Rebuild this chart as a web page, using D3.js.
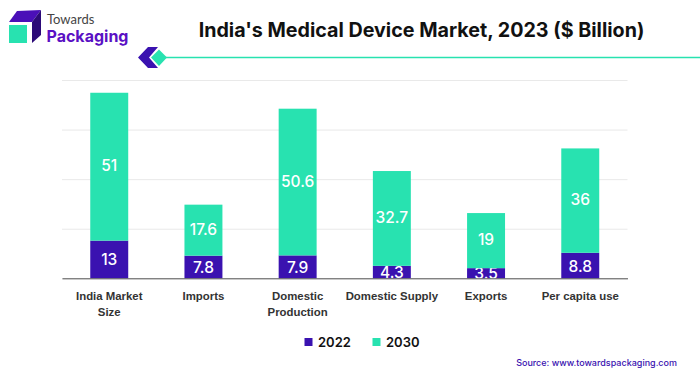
<!DOCTYPE html>
<html>
<head>
<meta charset="utf-8">
<script src="https://cdn.jsdelivr.net/npm/d3@7"></script>
<style>
    html, body { margin: 0; padding: 0; background: #fff; }
    svg { display: block; font-family: Inter, "Noto Sans", sans-serif; }
</style>
</head>
<body>
<div id="chart"></div>
<script>
const categories = [["India Market", "Size"], ["Imports"], ["Domestic", "Production"], ["Domestic Supply"], ["Exports"], ["Per capita use"]];
const values2022 = [13, 7.8, 7.9, 4.3, 3.5, 8.8];
const values2030 = [51, 17.6, 50.6, 32.7, 19, 36];
const gridValues = [0, 17.1, 34.2, 51.3, 68.4];
const seriesNames = ["2022", "2030"];
const seriesColors = ["#3a12b0", "#28e2b0"];

const width = 700, height = 376;
const margin = { top: 80, right: 72.5, bottom: 97.7, left: 62 };

const svg = d3.select("#chart").append("svg").attr("width", width).attr("height", height);

// --- SCALES ---
const names = categories.map(d => d.join(" "));
const x = d3.scaleBand().domain(names).range([margin.left, width - margin.right]).paddingInner(0.597).paddingOuter(0.3);
const y = d3.scaleLinear().domain([0, 68.4]).range([height - margin.bottom, margin.top]);

// --- GRID ---
svg.append("g").attr("transform", `translate(${margin.left},0)`)
    .call(d3.axisLeft(y).tickValues(gridValues).tickSize(-(width - margin.left - margin.right)).tickFormat(""))
    .call(g => g.select(".domain").remove())
    .call(g => g.selectAll("line").attr("stroke", "#e9e9e9"));

// --- BARS ---
const stacked = d3.stack().keys([0, 1]).value((d, k) => d[k])(values2022.map((d, i) => [d, values2030[i]]));
const layers = svg.selectAll("g.layer").data(stacked).join("g").attr("class", "layer").attr("fill", (d, i) => seriesColors[i]);
layers.selectAll("rect").data(d => d).join("rect")
    .attr("x", (d, i) => x(names[i]))
    .attr("width", x.bandwidth())
    .attr("y", d => y(d[1]))
    .attr("height", d => y(d[0]) - y(d[1]));

layers.selectAll("text").data((d, k) => d.map(v => ({ v, k }))).join("text")
    .attr("x", (d, i) => x(names[i]) + x.bandwidth() / 2)
    .attr("y", d => (y(d.v[0]) + y(d.v[1])) / 2 + (d.k === 0 ? 6 : 4.5))
    .attr("text-anchor", "middle")
    .attr("fill", "#fff")
    .attr("font-size", 15.5)
    .attr("font-weight", 500)
    .text((d, i) => (d.k === 0 ? values2022 : values2030)[i]);

// --- BASELINE + CATEGORY LABELS ---
const axis = svg.append("g").attr("transform", `translate(0,${y(0)})`)
    .call(d3.axisBottom(x).tickSize(0).tickFormat(""));
axis.select(".domain").attr("stroke", "#555").attr("stroke-width", 1);

axis.selectAll(".tick").each(function (d, i) {
    const t = d3.select(this).append("text")
        .attr("text-anchor", "middle").attr("fill", "#333")
        .attr("font-size", 11.4).attr("font-weight", 700);
    categories[i].forEach((line, j) => {
        t.append("tspan").attr("x", 0).attr("y", 22 + j * 16).text(line);
    });
});

// --- LEGEND ---
const legendX = [304.5, 372.5];
seriesNames.forEach((name, i) => {
    svg.append("rect").attr("x", legendX[i]).attr("y", 338).attr("width", 8).attr("height", 8).attr("fill", seriesColors[i]);
    svg.append("text").attr("x", legendX[i] + 13.5).attr("y", 346.5)
        .attr("font-size", 13).attr("font-weight", 600).attr("fill", "#111").text(name);
});

// --- TITLE + SOURCE ---
svg.append("text").attr("x", 421.5).attr("y", 37).attr("text-anchor", "middle")
    .attr("font-size", 19.7).attr("font-weight", 700).attr("fill", "#111")
    .text("India's Medical Device Market, 2023 ($ Billion)");
svg.append("text").attr("x", 677).attr("y", 366).attr("text-anchor", "end")
    .attr("font-size", 9).attr("font-weight", 500).attr("fill", "#3a12b0")
    .text("Source: www.towardspackaging.com");

// --- LOGO ---
const logo = svg.append("g");
logo.append("path").attr("d", "M9 22L17 11L41 10L32 22Z").attr("fill", "#4a0fb8");
logo.append("path").attr("d", "M32 43V22L41 10V35Z").attr("fill", "#2c0a78");
logo.append("rect").attr("x", 9).attr("y", 25).attr("width", 18).attr("height", 18).attr("fill", "#28e2b0");
logo.append("text").attr("x", 47).attr("y", 23.5).attr("font-size", 13).attr("fill", "#444")
    .attr("font-family", "Lato, sans-serif").text("Towards");
logo.append("text").attr("x", 46.5).attr("y", 42).attr("font-size", 16).attr("font-weight", 700).attr("fill", "#5a10c4")
    .text("Packaging");

// --- TITLE ORNAMENT ---
svg.append("path").attr("d", "M148 47H158L149 57.5L158 68H148L138 57.5Z").attr("fill", "#3a12b0");
svg.append("path").attr("d", "M159 49.5L167 57.5L159 66L151 57.5Z").attr("fill", "#28e2b0");
svg.append("line").attr("x1", 165).attr("x2", 700).attr("y1", 57.5).attr("y2", 57.5).attr("stroke", "#28e2b0").attr("stroke-width", 1.5);
</script>
</body>
</html>
